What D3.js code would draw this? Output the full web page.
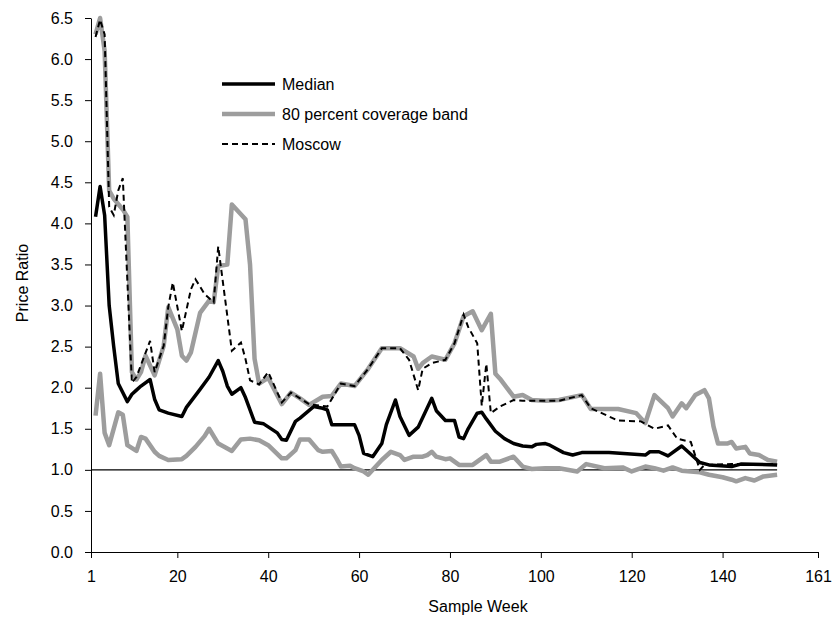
<!DOCTYPE html>
<html>
<head>
<meta charset="utf-8">
<script src="https://cdn.jsdelivr.net/npm/d3@7"></script>
<style>
  body { margin: 0; background: #fff; }
  text { font-family: "Liberation Sans", Arial, sans-serif; fill: #000; }
  .axis path, .axis line { stroke: #000; stroke-width: 1; }
  .axis text { font-size: 16px; }
</style>
</head>
<body>
<svg id="chart" width="833" height="617"></svg>
<script>
// [week, price ratio]
var median = [[2,4.08],[3,4.45],[4,4.1],[5,3.0],[6,2.5],[7,2.05],[9,1.83],[10,1.92],[11,1.97],[12,2.02],
  [14,2.1],[15,1.86],[16,1.73],[18,1.69],[21,1.65],[22,1.76],[25,1.98],[27,2.13],[29,2.33],[30,2.2],
  [31,2.02],[32,1.92],[34,2.0],[35,1.88],[37,1.58],[39,1.56],[42,1.45],[43,1.37],[44,1.36],[46,1.59],
  [47,1.63],[50,1.77],[52,1.75],[53,1.73],[54,1.55],[59,1.55],[60,1.42],[61,1.2],[63,1.16],[65,1.32],
  [66,1.55],[68,1.85],[69,1.65],[71,1.42],[73,1.52],[76,1.87],[77,1.72],[79,1.6],[81,1.6],[82,1.4],
  [83,1.38],[84,1.5],[86,1.69],[87,1.7],[88,1.62],[90,1.47],[92,1.38],[94,1.32],[96,1.29],[98,1.28],
  [99,1.31],[101,1.32],[102,1.3],[105,1.21],[107,1.18],[109,1.21],[115,1.21],[123,1.18],[124,1.22],
  [126,1.22],[128,1.17],[131,1.29],[135,1.09],[137,1.06],[142,1.04],[144,1.07],[152,1.06]];

var bandHigh = [[2,6.3],[3,6.5],[4,6.1],[5,4.4],[6,4.3],[8,4.17],[9,4.08],[10,2.19],[11,2.1],[12,2.19],
  [13,2.39],[15,2.15],[17,2.51],[18,2.98],[20,2.71],[21,2.39],[22,2.33],[23,2.43],[25,2.91],[27,3.06],
  [28,3.04],[29,3.48],[31,3.5],[32,4.23],[35,4.05],[36,3.5],[37,2.35],[38,2.05],[40,2.12],[43,1.8],
  [45,1.94],[47,1.87],[49,1.79],[52,1.89],[54,1.9],[56,2.05],[59,2.02],[62,2.23],[65,2.48],[69,2.48],
  [72,2.38],[73,2.23],[74,2.3],[76,2.38],[79,2.34],[81,2.54],[83,2.87],[85,2.93],[87,2.7],[89,2.9],
  [90,2.17],[91,2.11],[94,1.89],[96,1.91],[98,1.85],[101,1.84],[104,1.85],[109,1.91],[111,1.74],
  [117,1.74],[121,1.69],[123,1.57],[125,1.91],[128,1.75],[129,1.65],[131,1.81],[132,1.75],[134,1.91],
  [136,1.97],[137,1.87],[138,1.53],[139,1.32],[141,1.32],[142,1.34],[143,1.26],[145,1.28],[146,1.2],
  [148,1.18],[150,1.12],[152,1.1]];

var bandLow = [[2,1.66],[3,2.17],[4,1.45],[5,1.3],[7,1.7],[8,1.67],[9,1.3],[11,1.23],[12,1.4],[13,1.38],
  [15,1.22],[16,1.17],[18,1.12],[21,1.13],[22,1.17],[24,1.28],[26,1.41],[27,1.5],[29,1.32],[32,1.23],
  [34,1.37],[36,1.38],[38,1.36],[40,1.3],[43,1.14],[44,1.14],[46,1.24],[47,1.37],[49,1.37],[51,1.24],
  [52,1.22],[54,1.23],[55,1.14],[56,1.04],[58,1.05],[59,1.02],[61,0.98],[62,0.94],[65,1.12],[67,1.22],
  [69,1.18],[70,1.12],[72,1.16],[74,1.16],[75,1.18],[76,1.22],[77,1.16],[79,1.13],[80,1.14],[82,1.06],
  [85,1.06],[88,1.18],[89,1.1],[91,1.1],[94,1.16],[96,1.04],[98,1.01],[101,1.02],[104,1.02],[108,0.98],
  [110,1.07],[114,1.02],[118,1.03],[120,0.98],[123,1.04],[125,1.02],[127,0.99],[129,1.03],[131,0.99],
  [135,0.97],[137,0.94],[140,0.91],[142,0.88],[143,0.86],[145,0.9],[147,0.87],[149,0.92],[152,0.94]];

var moscow = [[2,6.27],[3,6.48],[4,6.3],[5,4.2],[6,4.1],[7,4.4],[8,4.55],[10,2.06],[11,2.13],[14,2.57],
  [15,2.19],[17,2.51],[18,2.98],[19,3.28],[21,2.69],[23,3.2],[24,3.32],[26,3.14],[28,3.04],[29,3.72],
  [32,2.45],[34,2.55],[35,2.35],[36,2.09],[38,2.04],[40,2.19],[43,1.82],[45,1.94],[47,1.87],[49,1.8],
  [53,1.77],[56,2.05],[59,2.02],[62,2.23],[65,2.48],[69,2.48],[71,2.34],[73,1.97],[74,2.23],[76,2.3],
  [79,2.34],[81,2.54],[83,2.89],[84,2.74],[86,2.54],[87,1.78],[88,2.29],[89,1.69],[91,1.77],[94,1.85],
  [96,1.84],[101,1.84],[104,1.84],[109,1.91],[111,1.75],[117,1.6],[122,1.59],[125,1.5],[128,1.54],
  [130,1.38],[133,1.34],[135,1.0],[136,1.06],[142,1.07],[152,1.07]];

var parity = [[1,1],[152,1]];

var xTicks = [1,20,40,60,80,100,120,140,161];
var yTicks = d3.range(0, 6.51, 0.5);
var legendLabels = ['Median', '80 percent coverage band', 'Moscow'];

var svg = d3.select('#chart');
var plotLeft = 91, plotRight = 818, plotTop = 18, plotBottom = 552;

var x = d3.scaleLinear().domain([1, 161]).range([plotLeft, plotRight]);
var y = d3.scaleLinear().domain([0, 6.5]).range([plotBottom, plotTop]);

var line = d3.line()
   .x(function(d) { return x(d[0]); })
   .y(function(d) { return y(d[1]); });

//axes
svg.append('g')
   .attr('class', 'axis')
   .attr('transform', 'translate(0,' + plotBottom + ')')
   .call(d3.axisBottom(x).tickValues(xTicks).tickSize(6).tickSizeOuter(0).tickPadding(10))
   .call(function(g) { g.selectAll('text').attr('dy', '0.9em'); });

svg.append('g')
   .attr('class', 'axis')
   .attr('transform', 'translate(' + plotLeft + ',0)')
   .call(d3.axisLeft(y).tickValues(yTicks).tickFormat(d3.format('.1f')).tickSize(6).tickSizeOuter(0).tickPadding(12));

//series
var gray = '#9d9d9d';

svg.append('path').datum(parity)
   .attr('d', line).attr('fill', 'none')
   .attr('stroke', '#000').attr('stroke-width', 1.2);

svg.append('path').datum(bandLow)
   .attr('d', line).attr('fill', 'none')
   .attr('stroke', gray).attr('stroke-width', 4.5).attr('stroke-linejoin', 'round');

svg.append('path').datum(bandHigh)
   .attr('d', line).attr('fill', 'none')
   .attr('stroke', gray).attr('stroke-width', 4.5).attr('stroke-linejoin', 'round');

svg.append('path').datum(median)
   .attr('d', line).attr('fill', 'none')
   .attr('stroke', '#000').attr('stroke-width', 3.5).attr('stroke-linejoin', 'round');

svg.append('path').datum(moscow)
   .attr('d', line).attr('fill', 'none')
   .attr('stroke', '#000').attr('stroke-width', 2).attr('stroke-dasharray', '6,4');

//legend
var legendStyles = [
   {stroke: '#000', width: 3.5, dash: null},
   {stroke: gray, width: 4.5, dash: null},
   {stroke: '#000', width: 2, dash: '6,4'}
];
var legend = svg.append('g').attr('transform', 'translate(222,84)');
legendLabels.forEach(function(label, i) {
   var s = legendStyles[i];
   legend.append('line')
      .attr('x1', 0).attr('x2', 53)
      .attr('y1', i * 30).attr('y2', i * 30)
      .attr('stroke', s.stroke).attr('stroke-width', s.width)
      .attr('stroke-dasharray', s.dash);
   legend.append('text')
      .attr('x', 60).attr('y', i * 30)
      .attr('dy', '0.35em')
      .style('font-size', '16px')
      .text(label);
});

//axis titles
svg.append('text')
   .attr('text-anchor', 'middle')
   .attr('transform', 'translate(22,283) rotate(-90)')
   .attr('dy', '0.35em')
   .style('font-size', '16px')
   .text('Price Ratio');

svg.append('text')
   .attr('text-anchor', 'middle')
   .attr('x', 478).attr('y', 606)
   .attr('dy', '0.35em')
   .style('font-size', '16px')
   .text('Sample Week');
</script>
</body>
</html>
